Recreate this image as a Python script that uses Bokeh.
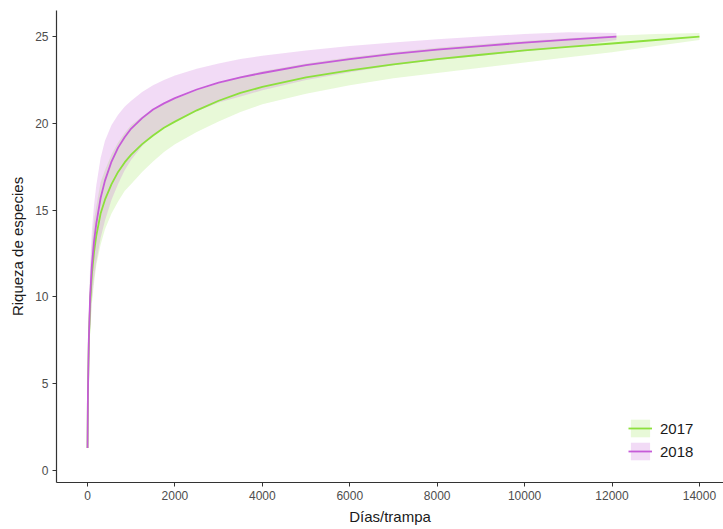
from bokeh.plotting import figure
from bokeh.models import ColumnDataSource, Range1d, FixedTicker, Legend, LegendItem
from bokeh.embed import file_html
from bokeh.resources import INLINE

# 2018 series
days_2018 = [1, 10, 30, 60, 100, 150, 200, 300, 400, 550, 700, 850, 1000, 1250, 1500,
             1750, 2000, 2500, 3000, 3500, 4000, 5000, 6000, 7000, 8000, 9000, 10000,
             11000, 12100]
rich_2018 = [1.3, 4.5, 7.5, 10.0, 11.8, 13.2, 14.2, 15.7, 16.7, 17.8, 18.6, 19.2, 19.7,
             20.3, 20.8, 21.15, 21.45, 21.95, 22.35, 22.65, 22.9, 23.35, 23.7, 24.0,
             24.25, 24.45, 24.65, 24.82, 25.0]
upper_2018 = [1.5, 5.3, 9.0, 11.8, 13.8, 15.3, 16.4, 18.0, 19.0, 19.9, 20.5, 20.95, 21.3,
              21.8, 22.2, 22.5, 22.75, 23.15, 23.45, 23.7, 23.9, 24.2, 24.45, 24.65,
              24.85, 25.0, 25.15, 25.25, 25.2]
lower_2018 = [1.1, 3.7, 6.0, 8.2, 9.8, 11.1, 12.0, 13.4, 14.4, 15.6, 16.5, 17.3, 17.9,
              18.7, 19.3, 19.75, 20.1, 20.7, 21.2, 21.55, 21.9, 22.5, 22.95, 23.35,
              23.65, 23.9, 24.15, 24.4, 24.8]

# 2017 series
days_2017 = [1, 10, 30, 60, 100, 150, 200, 300, 400, 550, 700, 850, 1000, 1250, 1500,
             1750, 2000, 2500, 3000, 3500, 4000, 5000, 6000, 7000, 8000, 9000, 10000,
             11000, 12000, 13000, 14000]
rich_2017 = [1.3, 4.4, 7.3, 9.6, 11.3, 12.6, 13.5, 14.8, 15.6, 16.5, 17.2, 17.75, 18.2,
             18.8, 19.3, 19.75, 20.1, 20.75, 21.3, 21.75, 22.1, 22.65, 23.05, 23.4, 23.7,
             23.95, 24.2, 24.4, 24.6, 24.8, 25.0]
upper_2017 = [1.5, 5.2, 8.7, 11.3, 13.0, 14.4, 15.2, 16.6, 17.3, 18.2, 18.9, 19.45, 19.9,
              20.4, 20.8, 21.15, 21.4, 21.9, 22.3, 22.7, 23.0, 23.45, 23.8, 24.1, 24.35,
              24.55, 24.75, 24.9, 25.05, 25.15, 25.2]
lower_2017 = [1.1, 3.6, 5.9, 7.9, 9.6, 10.8, 11.8, 13.0, 13.9, 14.8, 15.5, 16.1, 16.5,
              17.2, 17.8, 18.35, 18.8, 19.5, 20.1, 20.65, 21.1, 21.7, 22.2, 22.6, 22.9,
              23.2, 23.5, 23.8, 24.1, 24.45, 24.8]

x_ticks = [0, 2000, 4000, 6000, 8000, 10000, 12000, 14000]
y_ticks = [0, 5, 10, 15, 20, 25]
labels = ["2017", "2018"]

green = "#8CE03C"
purple = "#C65BD8"

p = figure(width=723, height=529, output_backend="svg", toolbar_location=None,
           x_range=Range1d(-709, 14550), y_range=Range1d(-0.69, 26.5),
           min_border_left=56, min_border_top=10, min_border_right=0, min_border_bottom=47)
p.outline_line_color = None
p.xgrid.visible = False
p.ygrid.visible = False
p.background_fill_color = "white"

s17 = ColumnDataSource(dict(x=days_2017, y=rich_2017, lo=lower_2017, hi=upper_2017))
s18 = ColumnDataSource(dict(x=days_2018, y=rich_2018, lo=lower_2018, hi=upper_2018))

a17 = p.varea(x="x", y1="lo", y2="hi", source=s17, fill_color=green, fill_alpha=0.2)
a18 = p.varea(x="x", y1="lo", y2="hi", source=s18, fill_color=purple, fill_alpha=0.22)
l17 = p.line(x="x", y="y", source=s17, line_color=green, line_width=1.8,
             line_join="round")
l18 = p.line(x="x", y="y", source=s18, line_color=purple, line_width=1.8,
             line_join="round")

for ax in (p.xaxis[0], p.yaxis[0]):
    ax.axis_line_color = "#333333"
    ax.axis_line_width = 1.2
    ax.major_tick_line_color = "#333333"
    ax.major_tick_out = 4
    ax.major_tick_in = 0
    ax.minor_tick_line_color = None
    ax.major_label_text_font = "Liberation Sans"
    ax.major_label_text_font_size = "12px"
    ax.major_label_text_color = "#4d4d4d"
    ax.axis_label_text_font = "Liberation Sans"
    ax.axis_label_text_font_size = "15px"
    ax.axis_label_text_font_style = "normal"
    ax.axis_label_text_color = "#1a1a1a"

p.xaxis[0].ticker = FixedTicker(ticks=x_ticks)
p.yaxis[0].ticker = FixedTicker(ticks=y_ticks)
p.xaxis[0].axis_label = "Días/trampa"
p.yaxis[0].axis_label = "Riqueza de especies"
p.xaxis[0].major_label_standoff = 4
p.xaxis[0].axis_label_standoff = 5
p.yaxis[0].major_label_standoff = 4
p.yaxis[0].axis_label_standoff = 6

legend = Legend(items=[LegendItem(label=labels[0], renderers=[a17, l17]),
                       LegendItem(label=labels[1], renderers=[a18, l18])],
                location=(572, 20))
legend.background_fill_alpha = 0
legend.border_line_color = None
legend.label_text_font = "Liberation Sans"
legend.label_text_font_size = "15px"
legend.label_text_color = "#1a1a1a"
legend.glyph_width = 24
legend.glyph_height = 22
legend.spacing = 1
legend.padding = 0
legend.margin = 0
legend.label_standoff = 8
p.add_layout(legend, "center")

open("out.html", "w").write(file_html(p, INLINE))
